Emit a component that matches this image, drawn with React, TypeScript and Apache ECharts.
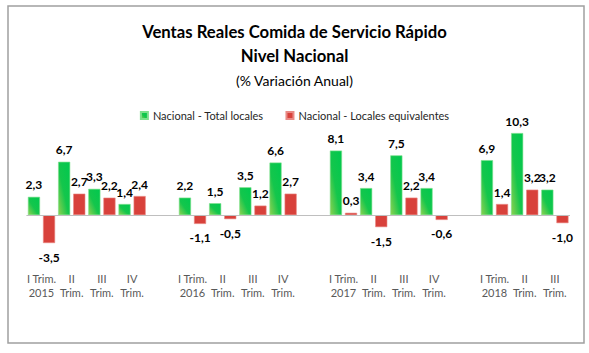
import React, { useEffect, useRef } from "react";
import * as echarts from "echarts";

const categories = [
  "I Trim.\n2015", "II\nTrim.", "III\nTrim.", "IV\nTrim.", "",
  "I Trim.\n2016", "II\nTrim.", "III\nTrim.", "IV\nTrim.", "",
  "I Trim.\n2017", "II\nTrim.", "III\nTrim.", "IV\nTrim.", "",
  "I Trim.\n2018", "II\nTrim.", "III\nTrim.",
];

const totalLocales: (number | null)[] = [
  2.3, 6.7, 3.3, 1.4, null,
  2.2, 1.5, 3.5, 6.6, null,
  8.1, 3.4, 7.5, 3.4, null,
  6.9, 10.3, 3.2,
];

const localesEquivalentes: (number | null)[] = [
  -3.5, 2.7, 2.2, 2.4, null,
  -1.1, -0.5, 1.2, 2.7, null,
  0.3, -1.5, 2.2, -0.6, null,
  1.4, 3.2, -1.0,
];

const seriesNames = ["Nacional - Total locales", "Nacional - Locales equivalentes"];

const FONT = "Lato, 'Liberation Sans', sans-serif";

function toItems(values: (number | null)[]) {
  return values.map((v) => {
    if (v === null) return "-";
    return {
      value: v,
      label: {
        position: v >= 0 ? "top" : "bottom",
        distance: v >= 0 ? 6 : 8,
      },
    };
  });
}

const labelStyle = {
  show: true,
  fontFamily: FONT,
  fontWeight: "bold" as const,
  fontSize: 12,
  color: "#000000",
  formatter: (p: any) => Number(p.value).toFixed(1).replace(".", ","),
};

export default function App() {
  const ref = useRef<HTMLDivElement>(null);
  useEffect(() => {
    if (!ref.current) return;
    const chart = echarts.init(ref.current, undefined, { renderer: "svg" });
    const green = new echarts.graphic.LinearGradient(1, 0, 0, 1, [
      { offset: 0, color: "#00c84e" },
      { offset: 0.55, color: "#14c64c" },
      { offset: 1, color: "#8fd150" },
    ]);
    chart.setOption({
      animation: false,
      backgroundColor: "#ffffff",
      textStyle: { fontFamily: FONT },
      title: {
        left: "center",
        top: 20,
        text: "Ventas Reales Comida de Servicio Rápido\nNivel Nacional",
        textStyle: {
          fontFamily: FONT,
          fontWeight: "bold",
          fontSize: 16.7,
          lineHeight: 24,
          color: "#000000",
        },
        subtext: "(% Variación Anual)",
        subtextStyle: {
          fontFamily: FONT,
          fontSize: 14,
          lineHeight: 18,
          color: "#000000",
        },
        itemGap: 3,
        padding: 0,
      },
      legend: {
        top: 105,
        left: "center",
        itemWidth: 7,
        itemHeight: 7,
        itemGap: 22,
        icon: "rect",
        textStyle: { fontFamily: FONT, fontSize: 11, color: "#262626" },
        data: seriesNames,
      },
      graphic: [
        {
          type: "rect",
          shape: { x: 8, y: 6, width: 576, height: 337 },
          style: { fill: "none", stroke: "#a0a0a0", lineWidth: 1.5 },
          silent: true,
        },
      ],
      grid: { left: 26.4, right: 19, top: 119.5, bottom: 88 },
      xAxis: {
        type: "category",
        data: categories,
        axisLine: { show: false, onZero: false },
        axisTick: { show: false },
        axisLabel: {
          interval: 0,
          margin: 6,
          fontFamily: FONT,
          fontSize: 11,
          lineHeight: 14,
          color: "#595959",
        },
      },
      yAxis: {
        type: "value",
        min: -6.25,
        max: 12,
        show: false,
        splitLine: { show: false },
      },
      series: [
        {
          name: seriesNames[0],
          type: "bar",
          barGap: "25%",
          barCategoryGap: "10%",
          data: toItems(totalLocales),
          itemStyle: { color: green, borderColor: "#7ee08c", borderWidth: 0.6 },
          label: labelStyle,
          markLine: {
            silent: true,
            symbol: ["none", "none"],
            label: { show: false },
            lineStyle: { color: "#bfbfbf", type: "solid", width: 1 },
            data: [{ yAxis: 0 }],
          },
        },
        {
          name: seriesNames[1],
          type: "bar",
          barGap: "25%",
          barCategoryGap: "10%",
          data: toItems(localesEquivalentes),
          itemStyle: { color: "#d8413b", borderColor: "#e98a85", borderWidth: 0.6 },
          label: labelStyle,
        },
      ],
    });
    return () => chart.dispose();
  }, []);
  return (
    <div
      ref={ref}
      style={{ position: "fixed", left: 0, top: 0, width: 589, height: 353 }}
    />
  );
}
